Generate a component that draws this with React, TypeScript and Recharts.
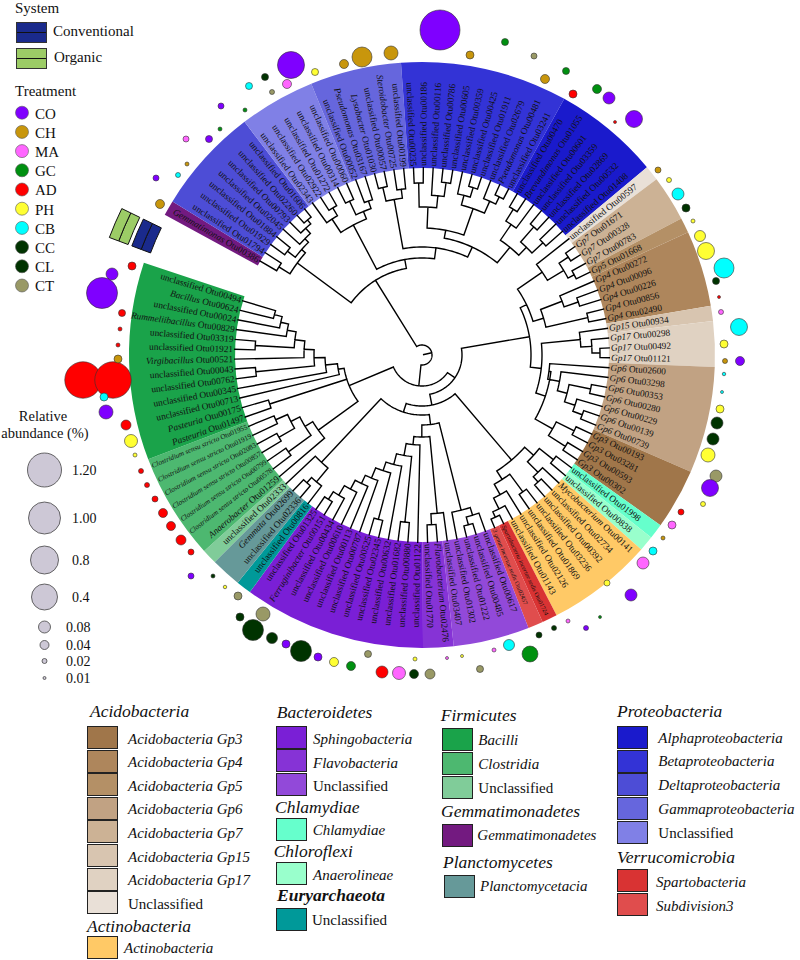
import React from 'react';
import { PieChart, Pie, Cell, ScatterChart, Scatter, XAxis, YAxis } from 'recharts';

// ---------- ring taxa (clockwise from the gap) ----------
const groupNames = ['Gemmatimonadetes','Deltaproteobacteria','ProteoUnclassified','Gammaproteobacteria','Betaproteobacteria','Alphaproteobacteria','AcidoUnclassified','Gp7','Gp5','Gp4','Gp15','Gp17','Gp6','Gp3','Chlamydiae','Anaerolineae','Actinobacteria','Spartobacteria','Subdivision3','BactUnclassified','Flavobacteria','Sphingobacteria','Euryarchaeota','Planctomycetacia','FirmUnclassified','Clostridia','Bacilli'];
const groupTips = [1,7,5,6,11,7,1,3,1,5,1,3,7,4,1,1,7,1,1,5,2,12,1,2,1,7,13];
const groupColors = ['#731a80','#4d4dd6','#8080e6','#6666dd','#3333d6','#1a1acc','#e9e0d7','#ccb295','#b49066','#ae865c','#d8c5b0','#e0d2c2','#c1a283','#a0764a','#66ffcc','#99ffcc','#ffc966','#d93333','#e04d4d','#9249d9','#8633d6','#7a1fd6','#009999','#669999','#80cc99','#4db870','#1aa34a'];

const tipLabels = [
'Gemmatimonas Otu00386',
'unclassified Otu01794','unclassified Otu01929','unclassified Otu01884','unclassified Otu02045','unclassified Otu00793','unclassified Otu02260','unclassified Otu01606',
'unclassified Otu02343','unclassified Otu02922','unclassified Otu01272','unclassified Otu00314','unclassified Otu00060',
'unclassified Otu00052','Pseudomonas Otu03167','Lysobacter Otu01030','unclassified Otu00057','Steroidobacter Otu00725','unclassified Otu00199',
'unclassified Otu00235','unclassified Otu00186','unclassified Otu00116','unclassified Otu00786','unclassified Otu00605','unclassified Otu00359','unclassified Otu00425','unclassified Otu01911','unclassified Otu02679','Pseudomonas Otu00481','unclassified Otu03241',
'unclassified Otu00470','Brevundimonas Otu01055','unclassified Otu00601','unclassified Otu03359','unclassified Otu02869','unclassified Otu00532','unclassified Otu01408',
'unclassified Otu00597',
'Gp7 Otu01671','Gp7 Otu00328','Gp7 Otu00783','Gp5 Otu01668',
'Gp4 Otu00272','Gp4 Otu00096','Gp4 Otu00226','Gp4 Otu00856','Gp4 Otu02490','Gp15 Otu00934',
'Gp17 Otu00298','Gp17 Otu00492','Gp17 Otu01121',
'Gp6 Otu02600','Gp6 Otu03298','Gp6 Otu00353','Gp6 Otu00280','Gp6 Otu00229','Gp6 Otu00139','Gp6 Otu00739',
'Gp3 Otu00193','Gp3 Otu03281','Gp3 Otu00593','Gp3 Otu00302',
'unclassified Otu01998','unclassified Otu00838',
'Mycobacterium Otu00141','unclassified Otu02734','unclassified Otu00392','unclassified Otu03236','unclassified Otu01869','unclassified Otu02126','unclassified Otu01143',
'Spartobacteria incertae sedis Otu01724','3 genus incertae sedis Otu02457',
'unclassified Otu00617','unclassified Otu00485','unclassified Otu01222','unclassified Otu01302','unclassified Otu03407',
'Flavobacterium Otu02476','unclassified Otu01770',
'unclassified Otu01122','unclassified Otu00880','unclassified Otu01682','unclassified Otu00632','unclassified Otu02345','unclassified Otu00525','unclassified Otu00787','unclassified Otu00113','unclassified Otu00610','unclassified Otu00434','Ferruginibacter Otu00151','unclassified Otu01325',
'unclassified Otu00816','unclassified Otu02336','Gemmata Otu02699','unclassified Otu02333',
'Anaerobacter Otu01259','Clostridium sensu stricto Otu00578','Clostridium sensu stricto Otu00799','Clostridium sensu stricto Otu00857','Clostridium sensu stricto Otu02083','Clostridium sensu stricto Otu01919','Clostridium sensu stricto Otu01955',
'Pasteuria Otu01497','Pasteuria Otu00175','unclassified Otu00713','unclassified Otu00345','unclassified Otu00762','unclassified Otu00043','Virgibacillus Otu00521','unclassified Otu01921','unclassified Otu03319','Rummeliibacillus Otu00829','unclassified Otu00024','Bacillus Otu00624','unclassified Otu00494',
];

// ---------- tree: [depth, ...children]; a plain number is a tip index ----------
type TreeNode = number | (number | TreeNode)[];
const cladeGemDelta: TreeNode = [155, [168, 0, 1], [160, [170, 2, 3], [165, 4, [172, 5, [177, 6, 7]]]]];
const cladeProteoUnc: TreeNode = [147, [163, 8, [172, 9, 10]], [155, [170, 11, 12], [163, 13, 14]]];
const cladeGamma: TreeNode = [158, [172, 15, 16], [167, 17, 18]];
const cladeBetaA: TreeNode = [148, [172, 19, 20], [160, 21, [174, 22, 23]]];
const cladeBetaB: TreeNode = [155, [165, 24, [175, 25, 26]], [168, 27, [176, 28, 29]]];
const cladeAlpha: TreeNode = [139, [158, [172, 30, 31], 32], [150, [170, 33, 34], [165, 35, 36]]];
const cladeTop: TreeNode = [88, cladeGemDelta, [97, cladeProteoUnc, [108, cladeGamma, [119, [127, cladeBetaA, cladeBetaB], cladeAlpha]]]];

const cladeAcidA: TreeNode = [116, [146, 37, [165, [176, 38, 39], [172, 40, 41]]], [127, [150, 42, [165, 43, 44]], [170, 45, 46]]];
const cladeGp17: TreeNode = [159, 47, [170, 48, [178, 49, 50]]];
const cladeGp6: TreeNode = [128, 51, [140, 52, [150, [172, 53, 54], [161, 55, [171, 56, 57]]]]];
const cladeGp3: TreeNode = [150, [170, 58, 59], [170, 60, 61]];
const cladeAcid: TreeNode = [109, cladeAcidA, [120, cladeGp17, [130, cladeGp6, cladeGp3]]];

const cladeActino: TreeNode = [138, [150, [168, 62, 63], [165, 64, [172, 65, 66]]], [148, [170, 67, 68], [160, 69, [172, 70, [178, 71, 72]]]]];
const stair: TreeNode = [70, [160, [168, 73, [176, 74, 75]], 76],
  [82, [159, 77, [170, 78, 79]],
  [90, 80,
  [102, [168, 81, 82],
  [113, 83,
  [122, [170, 84, 85],
  [133, 86,
  [142, 87,
  [152, 88,
  [163, 89, [172, 90, 91]]]]]]]]]]];
const cladeEury: TreeNode = [147, [165, 92, [172, 93, 94]], 95];
const cladeBacilli: TreeNode = [85, 105, [97, 106, [108, [167, 107, 108], [118, 109, [128, [167, 110, 111], [137, 112, [145, 113, [153, 114, 115]]]]]]]];
const cladeClostridia: TreeNode = [128, [137, [147, [160, 101, 102], [165, 99, 100]], [165, 97, 98]], 96];
const treeRoot: TreeNode = [10, cladeTop, [31, [40, cladeAcid, [51, cladeActino, [60, stair, cladeEury]]], [79, cladeBacilli, [160, 103, 104], cladeClostridia]]];

// ---------- bubbles: x, y, relative abundance (%) ----------
type Bubble = [number, number, number];
const bubblesCO: Bubble[] = [[609,98,.08],[634,119,.194],[291,65,.6],[440,30,2],[221,106,.025],[209,139,.03],[156,178,.025],[740,361,.04],[710,488,.194],[631,595,.08],[586,628,.02],[318,657,.035],[286,644,.035],[191,576,.025],[112,274,.08],[102,293,.95],[106,412,.126]];
const bubblesCH: Bubble[] = [[545,79,.04],[344,64,.04],[362,57,.263],[391,53,.126],[470,55,.035],[187,164,.015],[160,204,.04],[658,170,.025],[725,361,.02],[663,538,.015],[118,359,.035]];
const bubblesMA: Bubble[] = [[287,84,.04],[186,139,.025],[721,312,.02],[672,525,.035],[643,563,.08],[568,621,.015],[494,650,.015],[447,658,.01],[399,673,.103]];
const bubblesGC: Bubble[] = [[566,71,.03],[597,89,.04],[245,110,.015],[220,129,.015],[530,654,.17],[600,617,.01],[351,666,.04],[505,42,.03]];
const bubblesAD: Bubble[] = [[573,94,.035],[615,122,.01],[132,266,.035],[122,313,.03],[120,329,.015],[118,345,.015],[83,380,1.53],[113,380,1.53],[126,425,.053],[141,471,.02],[147,485,.02],[155,499,.025],[163,513,.04],[171,526,.04],[181,540,.053],[191,552,.025],[719,297,.01],[681,512,.025],[382,672,.08]];
const bubblesPH: Bubble[] = [[315,72,.03],[669,180,.02],[693,221,.015],[700,236,.067],[706,251,.194],[724,344,.035],[720,409,.035],[708,455,.126],[703,504,.02],[607,583,.025],[462,656,.01],[415,659,.015],[334,662,.04],[225,587,.0125],[131,441,.103],[135,455,.015]];
const bubblesCB: Bubble[] = [[249,86,.03],[178,175,.02],[678,194,.08],[724,268,.263],[739,327,.194],[724,374,.0125],[722,392,.01],[653,551,.035],[509,645,.067],[104,397,.035]];
const bubblesCC: Bubble[] = [[265,77,.03],[686,208,.035],[716,281,.03],[717,423,.08],[554,628,.02],[414,674,.04],[301,651,.286],[272,638,.067],[253,630,.286],[240,617,.035],[213,576,.015]];
const bubblesCL: Bubble[] = [[713,439,.08],[539,635,.025]];
const bubblesCT: Bubble[] = [[272,92,.02],[534,56,.025],[716,476,.08],[480,669,.03],[430,674,.053],[368,654,.03],[263,614,.126],[238,596,.035]];

const treatmentNames = ['CO','CH','MA','GC','AD','PH','CB','CC','CL','CT'];
const treatmentColors = ['#7f00ff','#c8960c','#ff66ff','#009010','#ff0000','#ffff33','#00ffff','#003300','#003300','#999966'];
const treatmentBubbles = [bubblesCO,bubblesCH,bubblesMA,bubblesGC,bubblesAD,bubblesPH,bubblesCB,bubblesCC,bubblesCL,bubblesCT];

const sizeLegendValues = [1.2,1.0,0.8,0.4,0.08,0.04,0.02,0.01];
const sizeLegendLabels = ['1.20','1.00','0.8','0.4','0.08','0.04','0.02','0.01'];
const sizeLegendY = [470,518,560,597,627,645,661,678];
const sizeDiameters: [number, number][] = [[.01,3],[.02,5],[.04,9],[.08,12],[.4,26],[.8,28],[1,32],[1.2,34],[2,40]];

// ---------- geometry ----------
const CX = 422, CY = 355, R_IN = 187, R_OUT = 293;
const GAP_START = 298.6, DEG_PER_TIP = 3.015;
const mathStart = 90 - GAP_START;
const mathEnd = mathStart - DEG_PER_TIP * tipLabels.length;
const FONT = '"Liberation Serif", "Times New Roman", serif';

const polar = (r: number, compass: number) => {
  const t = (compass * Math.PI) / 180;
  return { x: CX + r * Math.sin(t), y: CY - r * Math.cos(t) };
};
const tipAngle = (i: number) => GAP_START + DEG_PER_TIP * (i + 0.5);
const angleOf = (n: TreeNode): number => {
  if (typeof n === 'number') return tipAngle(n);
  const kids = n.slice(1) as TreeNode[];
  return (angleOf(kids[0]) + angleOf(kids[kids.length - 1])) / 2;
};
function treePath(): { x: number; y: number }[] {
  const pts: { x: number; y: number }[] = [];
  const arc = (r: number, a: number, b: number) => {
    const steps = Math.max(1, Math.ceil(Math.abs(b - a) / 1.5));
    for (let i = 1; i <= steps; i++) pts.push(polar(r, a + ((b - a) * i) / steps));
  };
  const walk = (n: TreeNode, parentR: number) => {
    const a = angleOf(n);
    if (typeof n === 'number') {
      pts.push(polar(R_IN + 1, a));
      pts.push(polar(parentR, a));
      return;
    }
    const r = n[0] as number;
    pts.push(polar(r, a));
    let cur = a;
    (n.slice(1) as TreeNode[]).forEach((c) => {
      const ca = angleOf(c);
      arc(r, cur, ca);
      cur = ca;
      walk(c, r);
    });
    arc(r, cur, a);
    pts.push(polar(parentR, a));
  };
  pts.push(polar(1, angleOf(treeRoot)));
  walk(treeRoot, 1);
  return pts;
}
const treePoints = treePath();

const radiusOf = (a: number) => {
  const s = sizeDiameters;
  if (a <= s[0][0]) return s[0][1] / 2;
  for (let i = 1; i < s.length; i++) {
    if (a <= s[i][0]) {
      const f = (a - s[i - 1][0]) / (s[i][0] - s[i - 1][0]);
      return (s[i - 1][1] + f * (s[i][1] - s[i - 1][1])) / 2;
    }
  }
  return s[s.length - 1][1] / 2;
};

const ringData = groupNames.map((name, i) => ({ name, value: groupTips[i] }));
const tipData = tipLabels.map((name) => ({ name, value: 1 }));

const renderTipLabel = (p: any) => {
  const compass = (((90 - p.midAngle) % 360) + 360) % 360;
  const label: string = p.name ?? p.payload?.name ?? '';
  const cut = label.lastIndexOf(' ');
  const genus = label.slice(0, cut);
  const otu = label.slice(cut);
  const right = compass < 180;
  const pos = polar(R_IN + 2, compass);
  const rot = right ? compass - 90 : compass + 90;
  const small = genus.includes('incertae') ? 6.2 : genus.startsWith('Clostridium') ? 7.2 : 9.3;
  return (
    <text key={label} x={pos.x} y={pos.y} textAnchor={right ? 'start' : 'end'} dominantBaseline="central"
      transform={`rotate(${rot} ${pos.x} ${pos.y})`} fontFamily={FONT} fontSize={small} fill="#111">
      <tspan fontStyle={genus === 'unclassified' ? 'normal' : 'italic'}>{genus}</tspan>
      <tspan>{otu}</tspan>
    </text>
  );
};

const systemNames = ['Conventional','Organic'];
const systemColors = ['#1a2a8c','#9ccc66'];
const systemRadii = [[290,300],[300,310],[314,324],[324,334]];

const Dot = (props: any) => {
  const { cx, cy, payload, fill } = props;
  return <circle cx={cx} cy={cy} r={radiusOf(payload.a)} fill={fill} stroke="#333" strokeWidth={0.6} />;
};
const sizeDot = (props: any) => {
  const { cx, cy, payload } = props;
  return <circle cx={cx} cy={cy} r={radiusOf(payload.a)} fill="#cdc8d6" stroke="#444" strokeWidth={0.8} />;
};

// ---------- legends ----------
const acidoLabels = ['Acidobacteria Gp3','Acidobacteria Gp4','Acidobacteria Gp5','Acidobacteria Gp6','Acidobacteria Gp7','Acidobacteria Gp15','Acidobacteria Gp17','Unclassified'];
const acidoSwatches = ['#a0764a','#ae865c','#b49066','#c1a283','#ccb295','#d8c5b0','#e0d2c2','#e9e0d7'];
const bacteroLabels = ['Sphingobacteria','Flavobacteria','Unclassified'];
const bacteroSwatches = ['#7a1fd6','#8633d6','#9249d9'];
const firmLabels = ['Bacilli','Clostridia','Unclassified'];
const firmSwatches = ['#1aa34a','#4db870','#80cc99'];
const proteoLabels = ['Alphaproteobacteria','Betaproteobacteria','Deltaproteobacteria','Gammaproteobacteria','Unclassified'];
const proteoSwatches = ['#1a1acc','#3333d6','#4d4dd6','#6666dd','#8080e6'];
const verrLabels = ['Spartobacteria','Subdivision3'];
const verrSwatches = ['#d93333','#e04d4d'];

const T = ({ x, y, size = 15, italic = false, bold = false, center = false, children }: any) => (
  <div style={{ position: 'absolute', left: x, top: y, transform: center ? 'translate(-50%,-50%)' : 'translateY(-50%)', fontFamily: FONT, fontSize: size, fontStyle: italic ? 'italic' : 'normal', fontWeight: bold ? 700 : 400, lineHeight: 1, whiteSpace: 'nowrap', color: '#111' }}>{children}</div>
);
const Swatch = ({ x, y, w = 31, h = 23, fill }: any) => (
  <div style={{ position: 'absolute', left: x, top: y, width: w, height: h, background: fill, border: '1.5px solid #222', boxSizing: 'border-box' }} />
);
const italicOf = (s: string) => s !== 'Unclassified';

function Block({ title, titleX, titleY, labels, colors, swX, swY, lblX, lblY, step = 23.6, italicTitle = true, w = 31 }: any) {
  return (
    <>
      {title && <T x={titleX} y={titleY} size={17.5} italic={italicTitle}>{title}</T>}
      {labels.map((l: string, i: number) => (
        <React.Fragment key={l + i}>
          <Swatch x={swX} y={swY + i * step} fill={colors[i]} w={w} />
          <T x={lblX} y={lblY + i * step} italic={italicOf(l)}>{l}</T>
        </React.Fragment>
      ))}
    </>
  );
}

export default function App() {
  return (
    <div style={{ position: 'absolute', left: 0, top: 0, width: 800, height: 960, overflow: 'hidden', background: '#fff' }}>
      <div style={{ position: 'absolute', left: 0, top: 0 }}>
        <PieChart width={800} height={960} margin={{ top: 0, right: 0, bottom: 0, left: 0 }}>
          <Pie data={ringData} dataKey="value" cx={CX} cy={CY} innerRadius={R_IN} outerRadius={R_OUT} startAngle={mathStart} endAngle={mathEnd} stroke="none" isAnimationActive={false}>
            {groupNames.map((g, i) => <Cell key={g} fill={groupColors[i]} />)}
          </Pie>
          <Pie data={tipData} dataKey="value" cx={CX} cy={CY} innerRadius={R_IN} outerRadius={R_OUT} startAngle={mathStart} endAngle={mathEnd} fill="none" stroke="none" isAnimationActive={false} label={renderTipLabel} labelLine={false} />
          {systemRadii.map(([a, b], i) => (
            <Pie key={i} data={[{ value: 1 }]} dataKey="value" cx={CX} cy={CY} innerRadius={a} outerRadius={b} startAngle={90 - 290.6} endAngle={90 - 296} fill={systemColors[i < 2 ? 0 : 1]} stroke="#111" strokeWidth={1} isAnimationActive={false} />
          ))}
        </PieChart>
      </div>
      <div style={{ position: 'absolute', left: 0, top: 0 }}>
        <ScatterChart width={800} height={960} margin={{ top: 0, right: 0, bottom: 0, left: 0 }}>
          <XAxis type="number" dataKey="x" domain={[0, 800]} hide allowDataOverflow />
          <YAxis type="number" dataKey="y" domain={[0, 960]} reversed hide allowDataOverflow />
          <Scatter data={treePoints} line={{ stroke: '#000', strokeWidth: 1.4, fill: 'none' }} lineType="joint" shape={() => <g />} isAnimationActive={false} />
          {[4, 9, 7, 8, 1, 2, 3, 5, 6, 0].map((k) => (
            <Scatter key={treatmentNames[k]} name={treatmentNames[k]} fill={treatmentColors[k]} data={treatmentBubbles[k].map(([x, y, a]) => ({ x, y, a }))} shape={Dot} isAnimationActive={false} />
          ))}
          <Scatter data={sizeLegendValues.map((a, i) => ({ x: 44.5, y: sizeLegendY[i], a }))} shape={sizeDot} isAnimationActive={false} />
          <Scatter data={treatmentNames.map((n, i) => ({ x: 22, y: 112.7 + i * 19.2, a: 0.09, k: i }))} shape={(p: any) => <circle cx={p.cx} cy={p.cy} r={6.5} fill={treatmentColors[p.payload.k]} stroke="#555" strokeWidth={0.6} />} isAnimationActive={false} />
        </ScatterChart>
      </div>

      <T x={15} y={8} size={15}>System</T>
      {systemNames.map((s, i) => (
        <React.Fragment key={s}>
          <div style={{ position: 'absolute', left: 15.5, top: i ? 48 : 22, width: 31, height: 21, background: systemColors[i], border: '1px solid #333', boxSizing: 'border-box' }}>
            <div style={{ position: 'absolute', left: 0, right: 0, top: 9, height: 1, background: '#111' }} />
          </div>
          <T x={i ? 54 : 53} y={i ? 57 : 31} size={15}>{s}</T>
        </React.Fragment>
      ))}
      <T x={15} y={91} size={15}>Treatment</T>
      {treatmentNames.map((n, i) => <T key={n} x={35} y={113.5 + i * 19.2} size={15}>{n}</T>)}

      <T x={43} y={416} size={14.5} center>Relative</T>
      <T x={45} y={433} size={14.5} center>abundance (%)</T>
      {sizeLegendLabels.map((l, i) => <T key={l} x={i < 4 ? 72 : 66} y={sizeLegendY[i] + 1} size={14}>{l}</T>)}

      <Block title="Acidobacteria" titleX={90} titleY={712} labels={acidoLabels} colors={acidoSwatches} swX={87.3} swY={726} lblX={128} lblY={738.5} step={23.6} />
      <Block title="Actinobacteria" titleX={87} titleY={927} labels={['Actinobacteria']} colors={['#ffc966']} swX={87} swY={935.5} lblX={124} lblY={948} />
      <Block title="Bacteroidetes" titleX={276.7} titleY={712.7} labels={bacteroLabels} colors={bacteroSwatches} swX={275.7} swY={725.7} lblX={313} lblY={739} />
      <Block title="Chlamydiae" titleX={275} titleY={808} labels={['Chlamydiae']} colors={['#66ffcc']} swX={275.7} swY={818} lblX={312.7} lblY={830} />
      <Block title="Chloroflexi" titleX={273.7} titleY={852} labels={['Anaerolineae']} colors={['#99ffcc']} swX={275.7} swY={862} lblX={313} lblY={875} />
      <T x={277} y={896} size={17.5} italic bold>Euryarchaeota</T>
      <Block labels={['Unclassified']} colors={['#009999']} swX={276} swY={908} lblX={312} lblY={920} />
      <Block title="Firmicutes" titleX={440.7} titleY={715.7} labels={firmLabels} colors={firmSwatches} swX={442.3} swY={727.7} lblX={478.3} lblY={740} step={24} />
      <Block title="Gemmatimonadetes" titleX={441} titleY={812} labels={['Gemmatimonadetes']} colors={['#731a80']} swX={442.3} swY={824} lblX={477.3} lblY={835} />
      <Block title="Planctomycetes" titleX={443} titleY={862.7} labels={['Planctomycetacia']} colors={['#669999']} swX={443.5} swY={875} lblX={480} lblY={885.7} />
      <Block title="Proteobacteria" titleX={617} titleY={711.7} labels={proteoLabels} colors={proteoSwatches} swX={616.7} swY={725.7} lblX={658.3} lblY={737.5} step={23.8} />
      <Block title="Verrucomicrobia" titleX={617} titleY={858} labels={verrLabels} colors={verrSwatches} swX={616.7} swY={869} lblX={656} lblY={881.7} step={24} />
    </div>
  );
}
